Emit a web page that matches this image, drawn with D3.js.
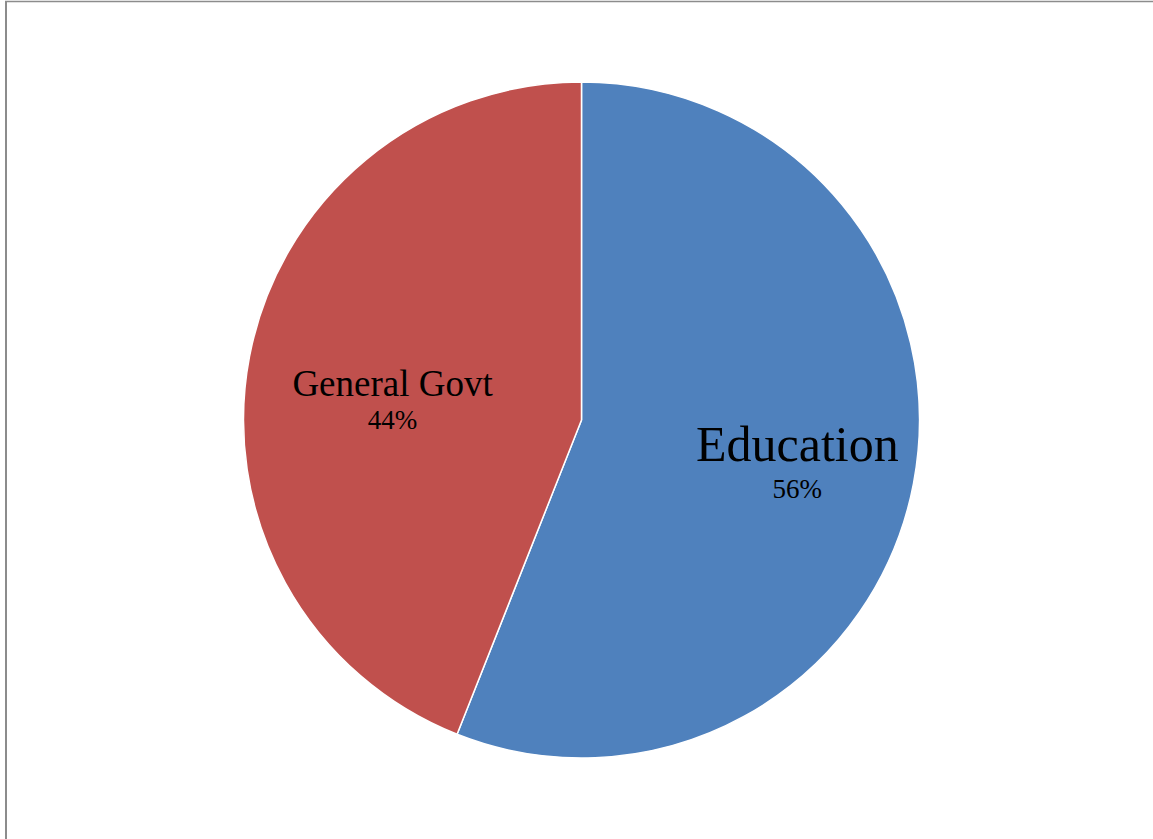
<!DOCTYPE html>
<html>
<head>
<meta charset="utf-8">
<script src="https://cdn.jsdelivr.net/npm/d3@7"></script>
<style>
  html, body { margin: 0; padding: 0; background: #fff; }
  svg { display: block; }
</style>
</head>
<body>
<svg id="chart" width="1153" height="839"></svg>
<script>
const categories = ["Education", "General Govt"];
const values = [56, 44];
const percentLabels = ["56%", "44%"];
const colors = ["#4F81BD", "#C0504D"];

const W = 1153, H = 839;
const cx = 581.5, cy = 420, R = 338;
const svg = d3.select("#chart");

// frame
svg.append("line").attr("x1", 5).attr("x2", W).attr("y1", 1.5).attr("y2", 1.5)
  .attr("stroke", "#8c8c8c").attr("stroke-width", 1.5);
svg.append("line").attr("x1", 6).attr("x2", 6).attr("y1", 1).attr("y2", H)
  .attr("stroke", "#8c8c8c").attr("stroke-width", 2);

const pie = d3.pie().sort(null).value(d => d.v);
const data = categories.map((c, i) => ({ c, v: values[i], p: percentLabels[i], col: colors[i] }));
const arcs = pie(data);

const arc = d3.arc().innerRadius(0).outerRadius(R);
const g = svg.append("g").attr("transform", `translate(${cx},${cy})`);

g.selectAll("path").data(arcs).enter().append("path")
  .attr("d", arc)
  .attr("fill", d => d.data.col)
  .attr("stroke", "#fff")
  .attr("stroke-width", 1.5)
  .attr("stroke-linejoin", "round");

// label layout (style): radius factor, name size, pct size, line gap, offsets
const labelStyle = [
  { rf: 0.65, nameSize: 50, pctSize: 27, gap: 37, dx: 0, dy: 0 },
  { rf: 0.56, nameSize: 37, pctSize: 27, gap: 33, dx: -3, dy: 11 }
];

const lab = g.selectAll("g.lab").data(arcs).enter().append("g").attr("class", "lab")
  .attr("transform", (d, i) => {
    const s = labelStyle[i];
    const la = d3.arc().innerRadius(R * s.rf).outerRadius(R * s.rf);
    const [x, y] = la.centroid(d);
    return `translate(${x + s.dx},${y + s.dy})`;
  });

lab.append("text")
  .attr("text-anchor", "middle")
  .attr("font-family", "'Liberation Serif', 'Times New Roman', serif")
  .attr("font-size", (d, i) => labelStyle[i].nameSize)
  .attr("fill", "#000")
  .text(d => d.data.c);

lab.append("text")
  .attr("text-anchor", "middle")
  .attr("y", (d, i) => labelStyle[i].gap)
  .attr("font-family", "'Liberation Serif', 'Times New Roman', serif")
  .attr("font-size", (d, i) => labelStyle[i].pctSize)
  .attr("fill", "#000")
  .text(d => d.data.p);
</script>
</body>
</html>
